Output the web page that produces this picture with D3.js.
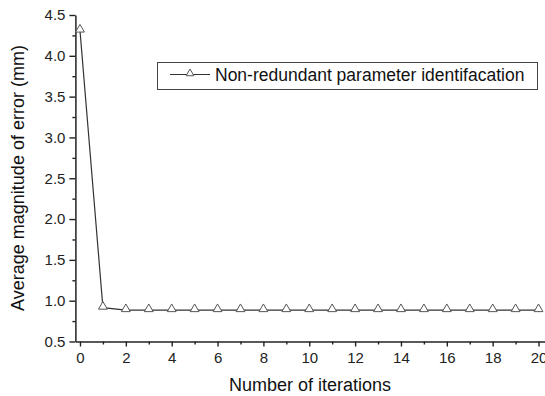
<!DOCTYPE html>
<html>
<head>
<meta charset="utf-8">
<script src="https://cdn.jsdelivr.net/npm/d3@7"></script>
<style>
  body { margin: 0; background: #fff; }
  svg { display: block; font-family: "Liberation Sans", Arial, sans-serif; }
</style>
</head>
<body>
<div id="chart"></div>
<script>
var W = 545, H = 396;

// data
var iterations = [0, 1, 2, 3, 4, 5, 6, 7, 8, 9, 10, 11, 12, 13, 14, 15, 16, 17, 18, 19, 20];
var avgError = [4.31, 0.915, 0.885, 0.885, 0.885, 0.885, 0.885, 0.885, 0.885, 0.885, 0.885,
                0.885, 0.885, 0.885, 0.885, 0.885, 0.885, 0.885, 0.885, 0.885, 0.885];
var yMajor = [0.5, 1.0, 1.5, 2.0, 2.5, 3.0, 3.5, 4.0, 4.5];
var yMinor = [0.75, 1.25, 1.75, 2.25, 2.75, 3.25, 3.75, 4.25];
var xMajor = [0, 2, 4, 6, 8, 10, 12, 14, 16, 18, 20];
var xMinor = [1, 3, 5, 7, 9, 11, 13, 15, 17, 19];
var seriesName = "Non-redundant parameter identifacation";

var x = d3.scaleLinear().domain([-0.2, 20.4]).range([75.4, 547.7]);
var y = d3.scaleLinear().domain([0.5, 4.5]).range([341.5, 15]);

var svg = d3.select("#chart").append("svg")
    .attr("width", W)
    .attr("height", H);

var axisColor = "#222";

// minor ticks first, then major axes on top
svg.append("g")
    .attr("transform", "translate(" + x(-0.2) + ",0)")
    .call(d3.axisLeft(y).tickValues(yMinor).tickSize(3).tickFormat(""))
    .call(g => g.select(".domain").remove());

svg.append("g")
    .attr("transform", "translate(0," + y(0.5) + ")")
    .call(d3.axisBottom(x).tickValues(xMinor).tickSize(3).tickFormat(""))
    .call(g => g.select(".domain").remove());

var yAxis = svg.append("g")
    .attr("transform", "translate(" + x(-0.2) + ",0)")
    .call(d3.axisLeft(y).tickValues(yMajor).tickSize(6).tickSizeOuter(0).tickPadding(4)
      .tickFormat(d3.format(".1f")));

var xAxis = svg.append("g")
    .attr("transform", "translate(0," + y(0.5) + ")")
    .call(d3.axisBottom(x).tickValues(xMajor).tickSize(5).tickSizeOuter(0).tickPadding(6)
      .tickFormat(d3.format("d")));

svg.selectAll(".tick line").attr("stroke", axisColor).attr("stroke-width", 1.4);
svg.selectAll(".domain").attr("stroke", axisColor).attr("stroke-width", 1.5);
svg.selectAll(".tick text")
    .attr("fill", "#222")
    .style("font-size", "15px");

// axis titles
svg.append("text")
    .attr("x", 310)
    .attr("y", 391)
    .attr("text-anchor", "middle")
    .attr("fill", "#111")
    .style("font-size", "18px")
    .text("Number of iterations");

svg.append("text")
    .attr("transform", "translate(24,178) rotate(-90)")
    .attr("text-anchor", "middle")
    .attr("fill", "#111")
    .style("font-size", "18px")
    .text("Average magnitude of error (mm)");

// series
var line = d3.line()
    .x((d, i) => x(iterations[i]))
    .y(d => y(d));

svg.append("path")
    .datum(avgError)
    .attr("fill", "none")
    .attr("stroke", "#333")
    .attr("stroke-width", 1.2)
    .attr("d", line);

var tri = d3.symbol().type(d3.symbolTriangle).size(34);

svg.selectAll(".pt")
    .data(avgError)
    .join("path")
    .attr("class", "pt")
    .attr("transform", (d, i) => "translate(" + x(iterations[i]) + "," + (y(d) - 1) + ")")
    .attr("d", tri)
    .attr("fill", "#fff")
    .attr("stroke", "#555")
    .attr("stroke-width", 1);

// legend
var lg = svg.append("g");
lg.append("rect")
    .attr("x", 157.5).attr("y", 62.5)
    .attr("width", 380).attr("height", 27)
    .attr("fill", "#fff")
    .attr("stroke", "#444")
    .attr("stroke-width", 1);
lg.append("line")
    .attr("x1", 170).attr("x2", 210)
    .attr("y1", 74.5).attr("y2", 74.5)
    .attr("stroke", "#333").attr("stroke-width", 1.2);
lg.append("path")
    .attr("transform", "translate(190,73.5)")
    .attr("d", d3.symbol().type(d3.symbolTriangle).size(26))
    .attr("fill", "#fff").attr("stroke", "#555");
lg.append("text")
    .attr("x", 215)
    .attr("y", 80.7)
    .attr("fill", "#111")
    .style("font-size", "17.5px")
    .text(seriesName);
</script>
</body>
</html>
